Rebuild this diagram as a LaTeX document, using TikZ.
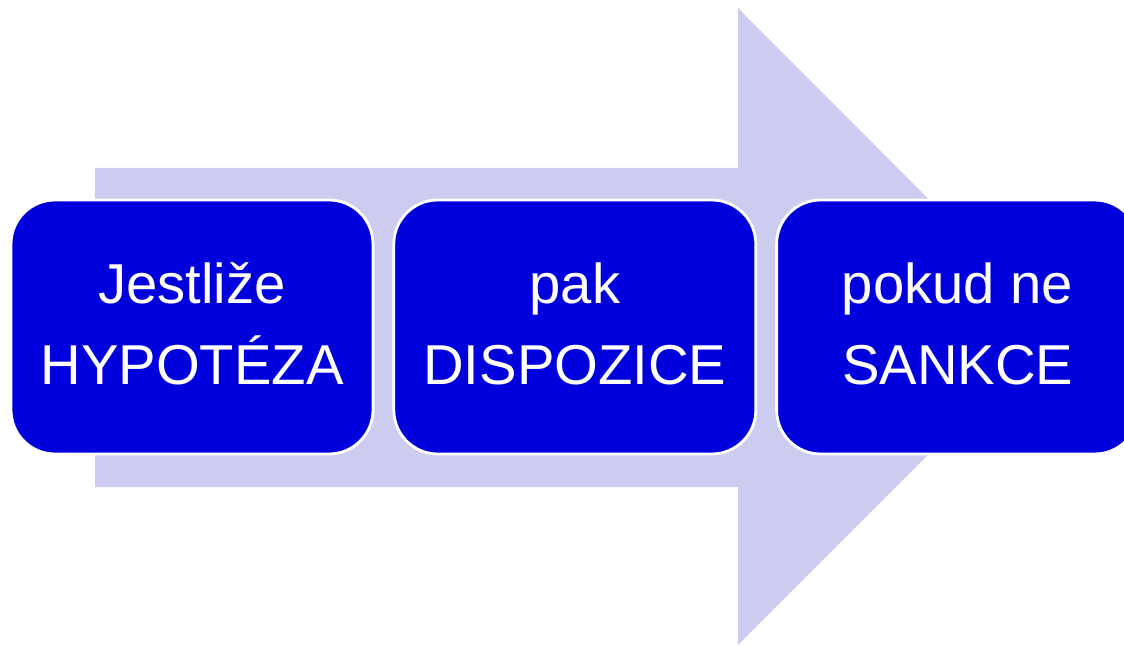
\documentclass[tikz,border=0pt]{standalone}
\usepackage{fontspec}
\setmainfont{Liberation Sans}
\usepackage{xcolor}
\usetikzlibrary{positioning}
\definecolor{boxblue}{RGB}{0,0,220}
\definecolor{arrowlight}{RGB}{204,204,240}
\tikzset{%
	stepbox/.style = {draw=white, line width=2pt, fill=boxblue, rectangle, rounded corners=1.1cm, minimum width=9.05cm, minimum height=6.35cm, text depth=0.15cm, text=white, align=center, font=\fontsize{40}{57.6}\selectfont},
	bigarrow/.style = {fill=arrowlight, draw=none},
}
\begin{document}
\begin{tikzpicture}
	\useasboundingbox (0,0) rectangle (28.1,16.125);
	\fill[bigarrow] (2.375,3.95) -- (18.45,3.95) -- (18.45,0) -- (26.4,7.96) -- (18.45,15.925) -- (18.45,11.925) -- (2.375,11.925) -- cycle;  % arrow
	\node[stepbox] (hyp) at (4.8,7.95) {Jestliže\\HYPOTÉZA};
	\node[stepbox, right=0.45cm of hyp] (disp) {pak\\DISPOZICE};
	\node[stepbox, right=0.45cm of disp] (sank) {pokud ne\\SANKCE};
\end{tikzpicture}
\end{document}
